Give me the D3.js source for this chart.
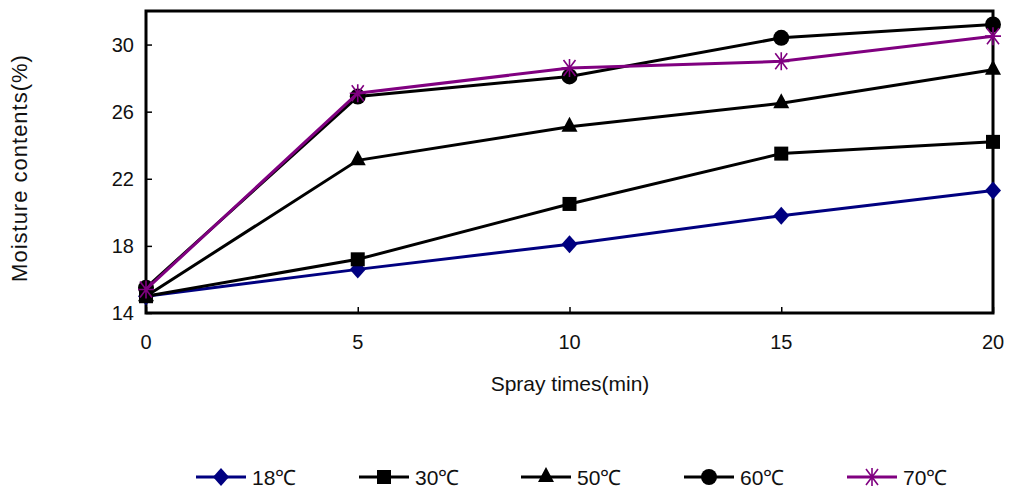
<!DOCTYPE html>
<html>
<head>
<meta charset="UTF-8">
<script src="https://cdn.jsdelivr.net/npm/d3@7"></script>
<style>
  body { margin: 0; background: #fff; }
  text { font-family: "Liberation Sans", Arial, sans-serif; fill: #111; }
</style>
</head>
<body>
<script>
var times = [0, 5, 10, 15, 20]
var xTicks = [0, 5, 10, 15, 20]
var yTicks = [14, 18, 22, 26, 30]
var series = ["18℃", "30℃", "50℃", "60℃", "70℃"]
var v18 = [15.0, 16.6, 18.1, 19.8, 21.3]
var v30 = [15.0, 17.2, 20.5, 23.5, 24.2]
var v50 = [15.0, 23.1, 25.1, 26.5, 28.5]
var v60 = [15.5, 26.9, 28.1, 30.4, 31.2]
var v70 = [15.4, 27.1, 28.6, 29.0, 30.5]

var width = 1009, height = 493
var m = { left: 146, right: 993, top: 11, bottom: 313 }

var svg = d3.select('body').append('svg').attr('width', width).attr('height', height)

var x = d3.scaleLinear().domain([0, 20]).range([m.left, m.right])
var y = d3.scaleLinear().domain([14, 32]).range([m.bottom, m.top])

var colors = ['#000080', '#000', '#000', '#000', '#800080']
var shapes = ['diamond', 'square', 'triangle', 'circle', 'star']
var values = [v18, v30, v50, v60, v70]

// frame
svg.append('rect')
  .attr('x', m.left).attr('y', m.top)
  .attr('width', m.right - m.left).attr('height', m.bottom - m.top)
  .attr('fill', 'none').attr('stroke', '#000').attr('stroke-width', 3)

// axes with inward ticks
var yAxis = svg.append('g').attr('transform', 'translate(' + m.left + ',0)')
  .call(d3.axisRight(y).tickValues(yTicks).tickSize(6).tickFormat(''))
yAxis.select('.domain').remove()
yAxis.selectAll('line').attr('stroke-width', 1.5)
svg.selectAll('.ylab').data(yTicks).enter().append('text')
  .attr('class', 'ylab')
  .attr('x', m.left - 12).attr('y', function(d){ return y(d) + 7 })
  .attr('text-anchor', 'end').style('font-size', '20px')
  .text(function(d){ return d })

var xAxis = svg.append('g').attr('transform', 'translate(0,' + m.bottom + ')')
  .call(d3.axisTop(x).tickValues(xTicks).tickSize(6).tickFormat(''))
xAxis.select('.domain').remove()
xAxis.selectAll('line').attr('stroke-width', 1.5)
svg.selectAll('.xlab').data(xTicks).enter().append('text')
  .attr('class', 'xlab')
  .attr('x', function(d){ return x(d) }).attr('y', m.bottom + 36)
  .attr('text-anchor', 'middle').style('font-size', '20px')
  .text(function(d){ return d })

svg.append('text').attr('x', 570).attr('y', 391).attr('text-anchor', 'middle')
  .style('font-size', '21px').text('Spray times(min)')
svg.append('text').attr('transform', 'translate(27,168) rotate(-90)')
  .attr('text-anchor', 'middle').style('font-size', '22px').style('letter-spacing', '1px')
  .text('Moisture contents(%)')

function marker(g, shape, color) {
  if (shape === 'diamond') g.append('path').attr('d', 'M0,-9L8,0L0,9L-8,0Z').attr('fill', color)
  if (shape === 'square') g.append('rect').attr('x', -7).attr('y', -7).attr('width', 14).attr('height', 14).attr('fill', color)
  if (shape === 'triangle') g.append('path').attr('d', 'M0,-10L8,5L-8,5Z').attr('fill', color)
  if (shape === 'circle') g.append('circle').attr('r', 8).attr('fill', color)
  if (shape === 'star') {
    g.append('path').attr('d', 'M-8,0L8,0M0,-9L0,9M-6,-8L6,8M6,-8L-6,8')
      .attr('stroke', color).attr('stroke-width', 1.6).attr('fill', 'none')
  }
}

var line = d3.line().x(function(d, i){ return x(times[i]) }).y(function(d){ return y(d) })

values.forEach(function(vals, k) {
  svg.append('path').datum(vals).attr('d', line)
    .attr('fill', 'none').attr('stroke', colors[k]).attr('stroke-width', 3)
  vals.forEach(function(v, i) {
    var g = svg.append('g').attr('transform', 'translate(' + x(times[i]) + ',' + y(v) + ')')
    marker(g, shapes[k], colors[k])
  })
})

// legend
var lx = [196, 359, 521, 684, 847]
series.forEach(function(s, k) {
  var g = svg.append('g').attr('transform', 'translate(' + lx[k] + ',477)')
  g.append('line').attr('x1', 0).attr('x2', 50).attr('stroke', colors[k]).attr('stroke-width', 3)
  var mg = g.append('g').attr('transform', 'translate(25,0)')
  marker(mg, shapes[k], colors[k])
  g.append('text').attr('x', 56).attr('y', 8).style('font-size', '21px').text(s)
})
</script>
</body>
</html>
